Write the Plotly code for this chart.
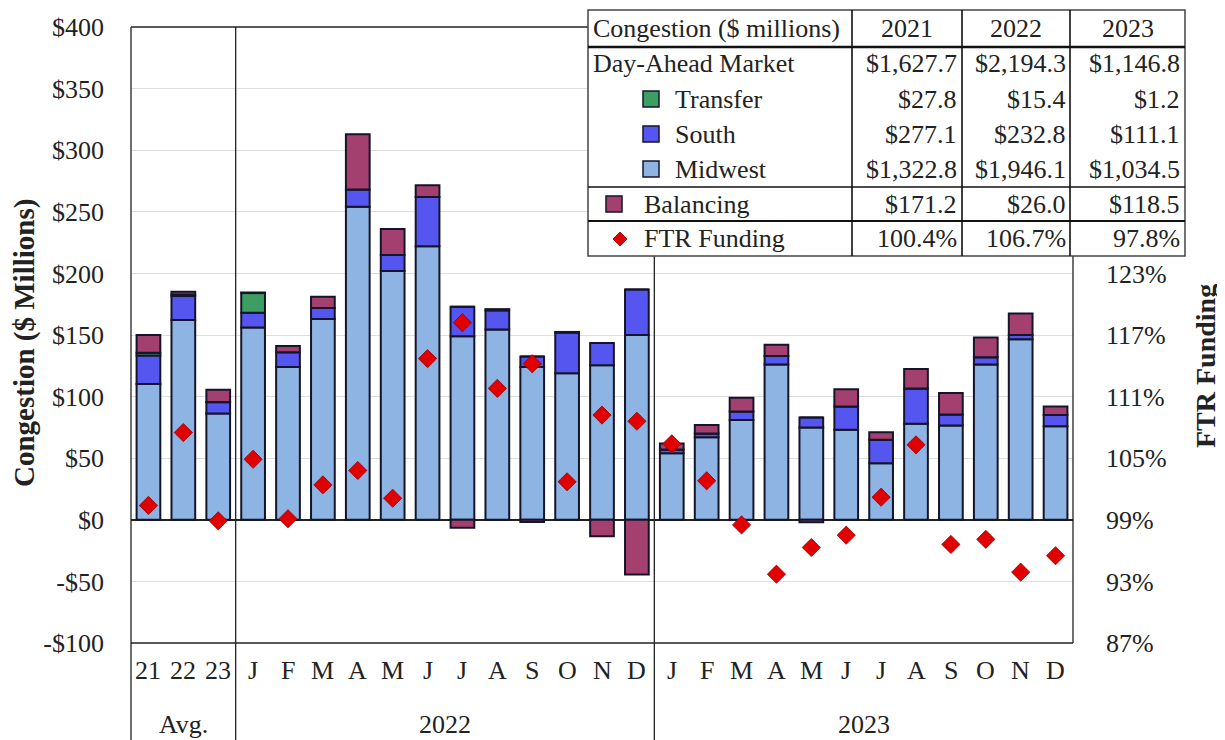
import plotly.graph_objects as go

# ---------------- data ----------------
cat_labels = ["21", "22", "23",
              "J", "F", "M", "A", "M", "J", "J", "A", "S", "O", "N", "D",
              "J", "F", "M", "A", "M", "J", "J", "A", "S", "O", "N", "D"]
groups = ["Avg.", "2022", "2023"]
group_spans = [(0, 2), (3, 14), (15, 26)]

midwest = [110.2, 162.2, 86.2,
           156, 124, 163, 254, 202, 222, 149, 154.5, 124, 119, 125.5, 150,
           54, 67, 81, 126, 75, 73, 46, 78, 76.5, 126, 146.5, 76]
south = [23.1, 19.4, 9.3,
         12, 12, 9, 14, 13, 40, 24, 15.5, 8.5, 33, 18, 37,
         3, 3, 7, 7, 8, 19, 19, 28.5, 9, 6, 3.5, 9]
transfer = [2.3, 1.3, 0.1,
            16, 0, 0, 0, 0, 0, 0, 0, 0, 0, 0, 0,
            0, 0, 0, 0, 0, 0, 0, 0, 0, 0, 0, 0]
balancing = [14.3, 2.2, 9.9,
             0.5, 5, 9, 45, 21, 9.5, -6.4, 1, -1.8, 0.5, -13.4, -44.3,
             5, 7, 11, 9, -2, 14, 6, 16, 17.5, 16, 17.5, 7]
ftr = [100.4, 107.5, 98.9,
       104.9, 99.1, 102.4, 103.8, 101.1, 114.7, 118.2, 111.8, 114.2, 102.7, 109.2, 108.6,
       106.4, 102.8, 98.5, 93.7, 96.3, 97.5, 101.2, 106.3, 96.6, 97.1, 93.9, 95.5]

left_tickvals = [-100, -50, 0, 50, 100, 150, 200, 250, 300, 350, 400]
left_ticktext = ["-$100", "-$50", "$0", "$50", "$100", "$150", "$200", "$250", "$300", "$350", "$400"]
right_tickvals = [87, 93, 99, 105, 111, 117, 123]
right_ticktext = ["87%", "93%", "99%", "105%", "111%", "117%", "123%"]

table_header = ["Congestion ($ millions)", "2021", "2022", "2023"]
table_rows = [
    ("Day-Ahead Market", ["$1,627.7", "$2,194.3", "$1,146.8"]),
    ("Transfer", ["$27.8", "$15.4", "$1.2"]),
    ("South", ["$277.1", "$232.8", "$111.1"]),
    ("Midwest", ["$1,322.8", "$1,946.1", "$1,034.5"]),
    ("Balancing", ["$171.2", "$26.0", "$118.5"]),
    ("FTR Funding", ["100.4%", "106.7%", "97.8%"]),
]

# ---------------- style ----------------
C_MID = "#8DB4E3"
C_SOUTH = "#5555F0"
C_TRANS = "#3C9E62"
C_BAL = "#A3406F"
C_FTR = "#E00000"
EDGE = "#15152A"
FONT = "Liberation Serif"
TXT = "#222222"

OFF = 8  # page body margin in the browser
WIN_W, WIN_H = 1225, 740
W, H = WIN_W - OFF, WIN_H - OFF
# plot area in window pixel coordinates
L, R, T, B = 131, 1073, 27, 643


def px(x):
    return (x - L) / (R - L)


def py(y):
    return (B - y) / (B - T)


x = list(range(len(cat_labels)))

fig = go.Figure()
bw = 0.68
for name, vals, col in [("Midwest", midwest, C_MID), ("South", south, C_SOUTH),
                        ("Transfer", transfer, C_TRANS), ("Balancing", balancing, C_BAL)]:
    fig.add_trace(go.Bar(x=x, y=vals, name=name, width=bw,
                         marker=dict(color=col, line=dict(color=EDGE, width=2))))

fig.add_trace(go.Scatter(x=x, y=ftr, name="FTR Funding", mode="markers", yaxis="y2",
                         marker=dict(symbol="diamond", size=14, color=C_FTR,
                                     line=dict(color="#9A0000", width=0.8))))

fig.update_layout(
    width=W, height=H,
    margin=dict(l=L - OFF, r=W - (R - OFF), t=T - OFF, b=H - (B - OFF), autoexpand=False),
    barmode="relative",
    paper_bgcolor="white", plot_bgcolor="white",
    showlegend=False,
    font=dict(family=FONT, size=26, color=TXT),
    xaxis=dict(range=[-0.5, len(cat_labels) - 0.5], showticklabels=False, showgrid=False,
               zeroline=False, showline=False, fixedrange=True),
    yaxis=dict(range=[-100, 400], tickvals=left_tickvals, ticktext=left_ticktext,
               showgrid=True, gridcolor="#DDDDDD", gridwidth=1,
               zeroline=True, zerolinecolor=TXT, zerolinewidth=1.5,
               showline=False, ticks="", ticklabelstandoff=26,
               tickfont=dict(family=FONT, size=26, color=TXT)),
    yaxis2=dict(range=[87, 147], overlaying="y", side="right", tickvals=right_tickvals,
                ticktext=right_ticktext, showgrid=False, zeroline=False, showline=False,
                ticks="", ticklabelstandoff=32,
                tickfont=dict(family=FONT, size=26, color=TXT)),
)

shapes = []
ann = []


def line(x0, y0, x1, y1, w=1.3, c=TXT):
    shapes.append(dict(type="line", xref="paper", yref="paper",
                       x0=px(x0), y0=py(y0), x1=px(x1), y1=py(y1),
                       line=dict(color=c, width=w)))


# plot frame and category dividers
cw = (R - L) / len(cat_labels)
line(L, T, R, T)
line(L, B, R, B, w=1.6)
line(R, T, R, B)
line(L, T, L, WIN_H)
for (a, b) in group_spans[:-1]:
    xd = L + (b + 1) * cw
    line(xd, T, xd, WIN_H)

# category labels
for i, lab in enumerate(cat_labels):
    ann.append(dict(xref="x", yref="paper", x=i, y=py(670), text=lab, showarrow=False,
                    font=dict(family=FONT, size=26, color=TXT), xanchor="center", yanchor="middle"))
for g, (a, b) in zip(groups, group_spans):
    ann.append(dict(xref="x", yref="paper", x=(a + b) / 2, y=py(724), text=g, showarrow=False,
                    font=dict(family=FONT, size=26, color=TXT), xanchor="center", yanchor="middle"))

# axis titles
ann.append(dict(xref="paper", yref="paper", x=px(24), y=py(343), text="<b>Congestion ($ Millions)</b>",
                textangle=-90, showarrow=False, xanchor="center", yanchor="middle", borderpad=0,
                font=dict(family=FONT, size=29, color=TXT)))
ann.append(dict(xref="paper", yref="paper", x=px(1205), y=py(366), text="<b>FTR Funding</b>",
                textangle=-90, showarrow=False, xanchor="center", yanchor="middle", borderpad=0,
                font=dict(family=FONT, size=28, color=TXT)))

# ---------------- table ----------------
TL, TR, TT, TB = 588, 1185, 10, 256
col_x = [852, 962, 1070]
shapes.append(dict(type="rect", xref="paper", yref="paper", x0=px(TL), x1=px(TR), y0=py(TB), y1=py(TT),
                   fillcolor="white", line=dict(color="#444444", width=1.5)))
for cx in col_x:
    line(cx, TT, cx, TB, w=1.6, c="#111111")
line(TL, 47, TR, 47, w=2.5, c="#111111")
line(TL, 187, TR, 187, w=1.6, c="#111111")
line(TL, 221, TR, 221, w=2.2, c="#111111")

row_y = [64, 99, 134, 169, 204, 239]
label_x = [591, 673, 673, 673, 642, 642]
val_right = [959, 1068, 1182]
tfont = dict(family=FONT, size=26, color=TXT)
ann.append(dict(xref="paper", yref="paper", x=px(591), y=py(28), text=table_header[0],
                xanchor="left", yanchor="middle", showarrow=False, font=tfont))
for j, hx in enumerate([(852 + 962) / 2, (962 + 1070) / 2, (1070 + 1185) / 2]):
    ann.append(dict(xref="paper", yref="paper", x=px(hx), y=py(28), text=table_header[j + 1],
                    xanchor="center", yanchor="middle", showarrow=False, font=tfont))
for (lab, vals), ry, lx in zip(table_rows, row_y, label_x):
    ann.append(dict(xref="paper", yref="paper", x=px(lx), y=py(ry), text=lab,
                    xanchor="left", yanchor="middle", showarrow=False, font=tfont))
    for v, vx in zip(vals, val_right):
        ann.append(dict(xref="paper", yref="paper", x=px(vx), y=py(ry), text=v,
                        xanchor="right", yanchor="middle", showarrow=False, font=tfont))


# legend swatches
def square(cxp, cyp, col, s=16):
    shapes.append(dict(type="rect", xref="paper", yref="paper",
                       x0=px(cxp - s / 2), x1=px(cxp + s / 2), y0=py(cyp + s / 2), y1=py(cyp - s / 2),
                       fillcolor=col, line=dict(color=EDGE, width=1.5)))


square(651, 99, C_TRANS)
square(651, 134, C_SOUTH)
square(651, 169, C_MID)
square(614, 204, C_BAL)
dx, dy = 7, 7
cxd, cyd = 620, 239
shapes.append(dict(type="path", xref="paper", yref="paper",
                   path=f"M {px(cxd - dx)},{py(cyd)} L {px(cxd)},{py(cyd - dy)} L {px(cxd + dx)},{py(cyd)} L {px(cxd)},{py(cyd + dy)} Z",
                   fillcolor=C_FTR, line=dict(color="#9A0000", width=0.8)))

fig.update_layout(shapes=shapes, annotations=ann)
fig.write_html("out.html")
